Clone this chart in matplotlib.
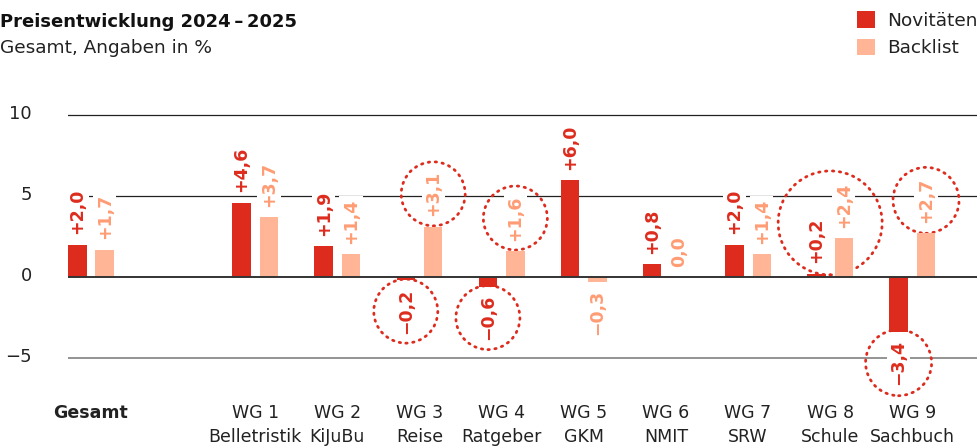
import matplotlib
matplotlib.use("Agg")
import matplotlib.pyplot as plt
import numpy as np
from matplotlib.patches import Circle
from matplotlib.transforms import IdentityTransform, ScaledTranslation

# ---- data ----
groups = ["Gesamt", "WG 1", "WG 2", "WG 3", "WG 4", "WG 5", "WG 6", "WG 7", "WG 8", "WG 9"]
subnames = ["", "Belletristik", "KiJuBu", "Reise", "Ratgeber", "GKM", "NMIT", "SRW", "Schule", "Sachbuch"]
novitaeten = [2.0, 4.6, 1.9, -0.2, -0.6, 6.0, 0.8, 2.0, 0.2, -3.4]
backlist = [1.7, 3.7, 1.4, 3.1, 1.6, -0.3, 0.0, 1.4, 2.4, 2.7]
series_names = ["Novitäten", "Backlist"]
yticks = [-5, 0, 5, 10]
ytick_labels = ["\u22125", "0", "5", "10"]

# highlighted labels (dotted circles): list of (group, [series indices], radius px)
highlights = [
    ("WG 3", [0], 32), ("WG 3", [1], 32),
    ("WG 4", [0], 32), ("WG 4", [1], 32),
    ("WG 8", [0, 1], 52),
    ("WG 9", [0], 33), ("WG 9", [1], 33),
]

# ---- style ----
RED = "#DD2C1E"
SALMON = "#FFB596"
SALMON_TXT = "#FF9C74"
bar_colors = [RED, SALMON]
label_colors = [RED, SALMON_TXT]

W, H = 978, 448
fig = plt.figure(figsize=(W / 100, H / 100), dpi=100)
ax = fig.add_axes([68 / W, (H - 398.1) / H, 910 / W, 298.8 / H])

x = np.array([0] + list(range(2, 2 + len(groups) - 1)), dtype=float)
bw = 0.225
off = 0.167

ax.set_xlim(-0.28, 10.8)
ax.set_ylim(-7.5, 11.0)

# grid lines
for yv in yticks:
    if yv == 0:
        ax.axhline(yv, color="#333333", lw=1.4, zorder=3)
    elif yv < 0:
        ax.axhline(yv, color="#8a8a8a", lw=1.3, zorder=1)
    else:
        ax.axhline(yv, color="#222222", lw=0.9, zorder=1)

texts = {}
for si, vals in enumerate([novitaeten, backlist]):
    xs = x + (-off if si == 0 else off)
    ax.bar(xs, vals, width=bw, color=bar_colors[si], zorder=2, label=series_names[si])
    for gi, (xx, v) in enumerate(zip(xs, vals)):
        if v > 0:
            s = "+" + f"{v:.1f}".replace(".", ",")
        elif v < 0:
            s = "\u2212" + f"{abs(v):.1f}".replace(".", ",")
        else:
            s = "0,0"
        if v >= 0:
            t = ax.annotate(s, (xx, v), xytext=(0, 7.5), textcoords="offset points",
                            rotation=90, ha="center", va="bottom", fontsize=12.5,
                            fontweight="bold", color=label_colors[si], zorder=4,
                            bbox=dict(boxstyle="square,pad=0.15", fc="white", ec="none"))
        else:
            t = ax.annotate(s, (xx, v), xytext=(0, -6), textcoords="offset points",
                            rotation=90, ha="center", va="top", fontsize=12.5,
                            fontweight="bold", color=label_colors[si], zorder=4,
                            bbox=dict(boxstyle="square,pad=0.15", fc="white", ec="none"))
        texts[(groups[gi], si)] = t

# axes styling
for sp in ax.spines.values():
    sp.set_visible(False)
ax.set_yticks(yticks)
ax.set_yticklabels(ytick_labels, fontsize=13, color="#222222")
ax.tick_params(axis="y", length=0, pad=26)
shift = ScaledTranslation(0, 3 / 100, fig.dpi_scale_trans)
for lab in ax.get_yticklabels():
    lab.set_horizontalalignment("right")
    lab.set_verticalalignment("center_baseline")
    lab.set_transform(lab.get_transform() + shift)

xlabels = [g if not s else f"{g}\n{s}" for g, s in zip(groups, subnames)]
ax.set_xticks(x)
ax.set_xticklabels(xlabels, fontsize=12.5, color="#222222", linespacing=1.45)
ax.tick_params(axis="x", length=0, pad=4)
ax.get_xticklabels()[0].set_fontweight("bold")

# title / subtitle
fig.text(0, 1 - 13 / H, "Preisentwicklung 2024\u2009\u2013\u20092025", fontsize=13,
         fontweight="heavy", ha="left", va="top", color="#111111")
fig.text(0, 1 - 39 / H, "Gesamt, Angaben in %", fontsize=13.3, ha="left", va="top",
         color="#222222")

# legend
leg = fig.legend(loc="upper right", bbox_to_anchor=(1.0, 1 - 11 / H), frameon=False,
                 fontsize=13.3, handlelength=1.0, handleheight=1.0, handletextpad=0.65,
                 labelspacing=0.5, borderpad=0, borderaxespad=0)
for t in leg.get_texts():
    t.set_color("#222222")

# dotted circles around highlighted labels (drawn beneath the bars)
fig.canvas.draw()
renderer = fig.canvas.get_renderer()
for g, sis, r in highlights:
    bbs = [texts[(g, si)].get_window_extent(renderer) for si in sis]
    x0 = min(b.x0 for b in bbs); x1 = max(b.x1 for b in bbs)
    y0 = min(b.y0 for b in bbs); y1 = max(b.y1 for b in bbs)
    cx, cy = (x0 + x1) / 2, (y0 + y1) / 2
    c = Circle((cx, cy), r, transform=IdentityTransform(), fill=False, ec=RED,
               lw=2.0, linestyle=(0, (0.5, 2.0)), capstyle="round", zorder=1.5,
               clip_on=False)
    ax.add_patch(c)

fig.savefig("out.png", dpi=100)
